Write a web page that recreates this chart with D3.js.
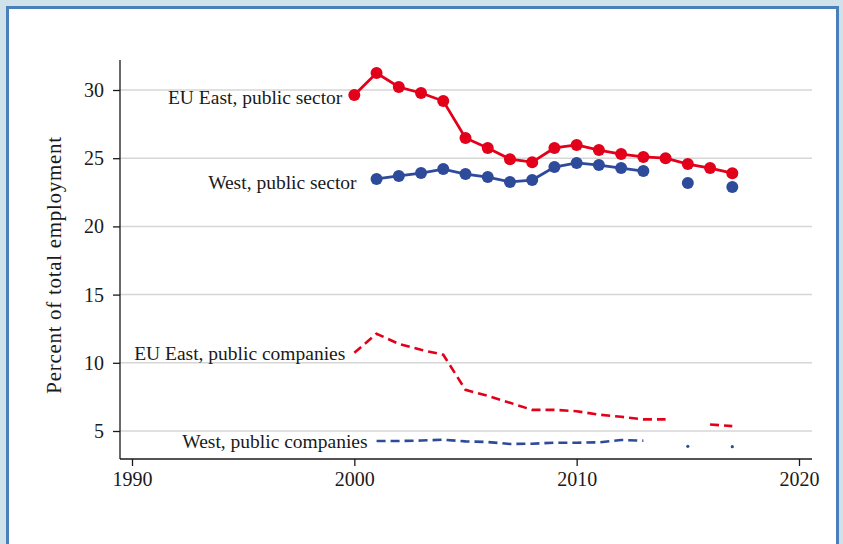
<!DOCTYPE html>
<html>
<head>
<meta charset="utf-8">
<script src="https://cdn.jsdelivr.net/npm/d3@7"></script>
<style>
  html, body { margin: 0; padding: 0; background: #cfe1eb; }
  svg { display: block; }
  text { font-family: "Liberation Serif", "Times New Roman", serif; fill: #1a1a1a; }
</style>
</head>
<body>
<div id="chart"></div>
<script>
// years 2000..2017, null = no observation
var years = d3.range(2000, 2018);
var eastSector    = [29.63, 31.25, 30.22, 29.78, 29.19, 26.48, 25.75, 24.93, 24.71, 25.75, 25.97, 25.6, 25.3, 25.09, 25.0, 24.57, 24.28, 23.9];
var westSector    = [null, 23.48, 23.7, 23.91, 24.2, 23.84, 23.62, 23.26, 23.4, 24.35, 24.65, 24.5, 24.28, 24.06, null, 23.18, null, 22.89];
var eastCompanies = [10.73, 12.13, 11.39, 10.95, 10.59, 8.02, 7.58, 7.07, 6.55, 6.55, 6.45, 6.2, 6.04, 5.85, 5.85, null, 5.48, 5.36];
var westCompanies = [null, 4.27, 4.27, 4.3, 4.36, 4.24, 4.19, 4.05, 4.07, 4.14, 4.14, 4.17, 4.34, 4.29, null, 3.88, null, 3.85];

var xTicks = [1990, 2000, 2010, 2020];
var yTicks = [5, 10, 15, 20, 25, 30];

var series = [
    {name: "EU East, public sector",    values: eastSector,    color: "#e2001a", dashed: false, markers: true,  dx: -12, dy: 2},
    {name: "West, public sector",       values: westSector,    color: "#2e4a9a", dashed: false, markers: true,  dx: -20, dy: 3},
    {name: "EU East, public companies", values: eastCompanies, color: "#e2001a", dashed: true,  markers: false, dx: -9,  dy: 0},
    {name: "West, public companies",    values: westCompanies, color: "#2e4a9a", dashed: true,  markers: false, dx: -9,  dy: 0}
];

var width = 843, height = 544;

var svg = d3.select("#chart").append("svg")
    .attr("width", width)
    .attr("height", height);

// panel with blue border
svg.append("rect")
    .attr("x", 7.5).attr("y", 7.5)
    .attr("width", 830).attr("height", 560)
    .attr("fill", "#fff")
    .attr("stroke", "#4a7fb9")
    .attr("stroke-width", 3);

var x = d3.scaleLinear().domain([1990, 2020]).range([132, 799]);
var y = d3.scaleLinear().domain([5, 30]).range([431, 90]);

var plotLeft = 120, plotRight = 812, plotTop = 60, plotBottom = 459;

// gridlines
svg.append("g")
    .selectAll("line").data(yTicks)
    .enter().append("line")
    .attr("x1", plotLeft).attr("x2", plotRight)
    .attr("y1", function(d) { return y(d); })
    .attr("y2", function(d) { return y(d); })
    .attr("stroke", "#d6d6d6")
    .attr("stroke-width", 1.5);

// y axis
var yAxis = svg.append("g")
    .attr("transform", "translate(" + plotLeft + ",0)")
    .call(d3.axisLeft(y).tickValues(yTicks).tickSize(7).tickPadding(9).tickSizeOuter(0));
yAxis.select(".domain").attr("d", "M0," + plotTop + "V" + plotBottom);

// x axis
var xAxis = svg.append("g")
    .attr("transform", "translate(0," + plotBottom + ")")
    .call(d3.axisBottom(x).tickValues(xTicks).tickFormat(d3.format("d")).tickSize(7).tickPadding(6).tickSizeOuter(0));
xAxis.select(".domain").attr("d", "M" + plotLeft + ",0H" + plotRight);

svg.selectAll(".tick text")
    .style("font-family", '"Liberation Serif", serif')
    .style("font-size", "20px")
    .attr("fill", "#1a1a1a");
svg.selectAll(".domain, .tick line").attr("stroke", "#1a1a1a").attr("stroke-width", 1.3);

// y axis title
svg.append("text")
    .attr("transform", "translate(61," + 265 + ") rotate(-90)")
    .attr("text-anchor", "middle")
    .style("font-size", "21px")
    .style("letter-spacing", "0.7px")
    .text("Percent of total employment");

var line = d3.line()
    .defined(function(d) { return d[1] !== null; })
    .x(function(d) { return x(d[0]); })
    .y(function(d) { return y(d[1]); });

series.forEach(function(s) {
    var pts = years.map(function(yr, i) { return [yr, s.values[i]]; });
    svg.append("path")
        .datum(pts)
        .attr("d", line)
        .attr("fill", "none")
        .attr("stroke", s.color)
        .attr("stroke-width", s.dashed ? 2.6 : 2.8)
        .attr("stroke-dasharray", s.dashed ? "9,5" : null);

    if (s.markers) {
        svg.append("g").selectAll("circle")
            .data(pts.filter(function(d) { return d[1] !== null; }))
            .enter().append("circle")
            .attr("cx", function(d) { return x(d[0]); })
            .attr("cy", function(d) { return y(d[1]); })
            .attr("r", 6)
            .attr("fill", s.color);
    } else {
        // isolated observations show up as tiny dots
        var lone = pts.filter(function(d, i) {
            return d[1] !== null && (i == 0 || pts[i-1][1] === null) && (i == pts.length-1 || pts[i+1][1] === null);
        });
        svg.append("g").selectAll("circle")
            .data(lone)
            .enter().append("circle")
            .attr("cx", function(d) { return x(d[0]); })
            .attr("cy", function(d) { return y(d[1]); })
            .attr("r", 1.6)
            .attr("fill", s.color);
    }

    // label left of the first observation
    var first = pts.find(function(d) { return d[1] !== null; });
    svg.append("text")
        .attr("x", x(first[0]) + s.dx)
        .attr("y", y(first[1]) + s.dy)
        .attr("dy", "0.35em")
        .attr("text-anchor", "end")
        .style("font-size", "19.5px")
        .text(s.name);
});
</script>
</body>
</html>
